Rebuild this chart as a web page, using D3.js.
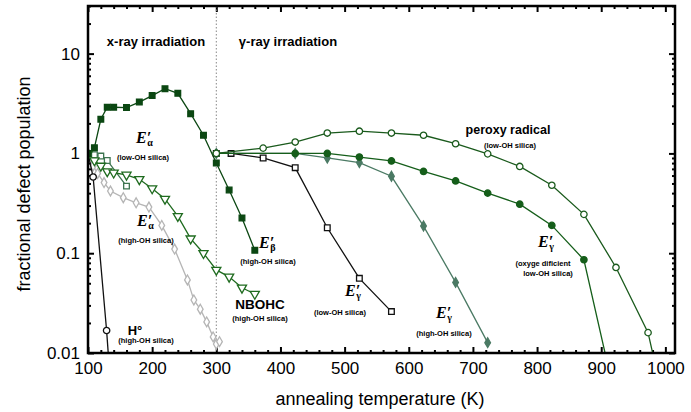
<!DOCTYPE html>
<html>
<head>
<meta charset="utf-8">
<script src="https://cdn.jsdelivr.net/npm/d3@7"></script>
<style>
  body { margin: 0; background: #fff; }
  svg { display: block; font-family: "Liberation Sans", Arial, sans-serif; }
  .tick text { font-size: 17px; fill: #000; }
  .domain { display: none; }
</style>
</head>
<body>
<div class="content"></div>
<script>
// Define SVG area dimensions
var svgWidth = 691;
var svgHeight = 412;

var margin = { top: 6, right: 16, bottom: 59, left: 88 };
var width = svgWidth - margin.left - margin.right;
var height = svgHeight - margin.top - margin.bottom;

// ---- data (annealing temperature K, fractional population) ----
// E'beta, high-OH silica (filled squares)
var tEbeta = [100, 110, 120, 130, 140, 160, 180, 200, 220, 240, 260, 280, 300, 320, 340, 360];
var pEbeta = [1, 1.14, 2.2, 2.9, 2.9, 2.88, 3.27, 3.8, 4.45, 4.0, 2.5, 1.52, 0.8, 0.43, 0.225, 0.107];

// E'alpha, low-OH silica (open squares)
var tEalphaLow = [100, 110, 120, 130, 160];
var pEalphaLow = [1, 0.97, 0.94, 0.85, 0.47];

// NBOHC, high-OH silica (open triangles)
var tNbohc = [100, 110, 120, 130, 140, 160, 180, 200, 220, 240, 260, 280, 300, 320, 340, 360];
var pNbohc = [1, 0.85, 0.75, 0.66, 0.64, 0.61, 0.55, 0.445, 0.35, 0.235, 0.14, 0.1, 0.068, 0.058, 0.045, 0.039];

// E'alpha, high-OH silica (open diamonds, grey)
var tEalphaHigh = [100, 108, 115, 125, 135, 155, 175, 195, 215, 235, 255, 265, 275, 285, 295, 300, 305];
var pEalphaHigh = [1, 0.75, 0.63, 0.51, 0.42, 0.36, 0.32, 0.29, 0.19, 0.11, 0.054, 0.034, 0.0275, 0.0205, 0.0145, 0.0123, 0.013];

// H0, high-OH silica (open circles, black)
var tH = [100, 108, 129, 136];
var pH = [1, 0.58, 0.0168, 0.004];

// E'gamma, low-OH silica (open squares, black)
var tEgLow = [300, 323, 373, 423, 473, 523, 573];
var pEgLow = [1, 1, 0.9, 0.72, 0.18, 0.056, 0.026];

// E'gamma, high-OH silica (filled diamonds)
var tEgHigh = [300, 423, 473, 523, 573, 623, 673, 723];
var pEgHigh = [1, 1, 0.9, 0.81, 0.59, 0.187, 0.051, 0.0127];

// E'gamma, oxygen deficient low-OH silica (filled circles)
var tEgOdc = [300, 423, 473, 523, 573, 623, 673, 723, 773, 823, 873, 923];
var pEgOdc = [1, 1, 1, 0.92, 0.84, 0.66, 0.53, 0.4, 0.31, 0.19, 0.086, 0.0033];

// peroxy radical, low-OH silica (open circles)
var tPeroxy = [300, 373, 423, 473, 523, 573, 623, 673, 723, 773, 823, 873, 923, 973, 1000];
var pPeroxy = [1, 1.13, 1.3, 1.6, 1.67, 1.6, 1.52, 1.25, 0.99, 0.74, 0.48, 0.245, 0.072, 0.016, 0.0027];

var xMajor = [100, 200, 300, 400, 500, 600, 700, 800, 900, 1000];
var yMajor = [0.01, 0.1, 1, 10];
var yLabels = ["0.01", "0.1", "1", "10"];

function zip(t, p) {
  return t.map(function(d, i) { return { t: d, p: p[i] }; });
}

var series = [
  { data: zip(tEalphaHigh, pEalphaHigh), color: "#b5b5b5", marker: "diamond", fill: "#fff" },
  { data: zip(tH, pH), color: "#111", marker: "circle", fill: "#fff" },
  { data: zip(tEalphaLow, pEalphaLow), color: "#3d7550", marker: "square", fill: "#fff" },
  { data: zip(tNbohc, pNbohc), color: "#1f6b1f", marker: "triangle", fill: "#fff" },
  { data: zip(tEbeta, pEbeta), color: "#0b4712", marker: "square", fill: "#0b4712" },
  { data: zip(tEgLow, pEgLow), color: "#111", marker: "square", fill: "#fff" },
  { data: zip(tEgHigh, pEgHigh), color: "#4b7a64", marker: "diamond", fill: "#4b7a64" },
  { data: zip(tEgOdc, pEgOdc), color: "#155e1a", marker: "circle", fill: "#155e1a" },
  { data: zip(tPeroxy, pPeroxy), color: "#1a5a1c", marker: "circle", fill: "#fff" }
];

var svg = d3.select(".content")
  .append("svg")
  .attr("width", svgWidth)
  .attr("height", svgHeight);

var chartGroup = svg.append("g")
  .attr("transform", `translate(${margin.left}, ${margin.top})`);

var xScale = d3.scaleLinear().domain([100, 1015]).range([0, width]);
var yScale = d3.scaleLog().domain([0.01, 30]).range([height, 0]);

// minor tick values
var xMinor = d3.range(100, 1001, 20).filter(d => d % 100 !== 0);
var yMinor = [];
[0.01, 0.1, 1, 10].forEach(function(dec) {
  for (var k = 2; k <= 9; k++) {
    var v = dec * k;
    if (v <= 30) yMinor.push(v);
  }
});

// axes: ticks point inward on all four sides
chartGroup.append("g")
  .attr("transform", `translate(0, ${height})`)
  .call(d3.axisBottom(xScale).tickValues(xMajor).tickSize(-6).tickPadding(9).tickFormat(d3.format("d")));
chartGroup.append("g")
  .attr("transform", `translate(0, ${height})`)
  .call(d3.axisBottom(xScale).tickValues(xMinor).tickSize(-3).tickFormat(""));
chartGroup.append("g")
  .call(d3.axisTop(xScale).tickValues(xMajor).tickSize(-6).tickFormat(""));
chartGroup.append("g")
  .call(d3.axisTop(xScale).tickValues(xMinor).tickSize(-3).tickFormat(""));

chartGroup.append("g")
  .call(d3.axisLeft(yScale).tickValues(yMajor).tickSize(-6).tickPadding(8)
    .tickFormat((d, i) => yLabels[i]));
chartGroup.append("g")
  .call(d3.axisLeft(yScale).tickValues(yMinor).tickSize(-3).tickFormat(""));
chartGroup.append("g")
  .attr("transform", `translate(${width}, 0)`)
  .call(d3.axisRight(yScale).tickValues(yMajor).tickSize(-6).tickFormat(""));
chartGroup.append("g")
  .attr("transform", `translate(${width}, 0)`)
  .call(d3.axisRight(yScale).tickValues(yMinor).tickSize(-3).tickFormat(""));

chartGroup.selectAll(".tick line").attr("stroke", "#000").attr("stroke-width", 2);

// dotted separator at 300 K
chartGroup.append("line")
  .attr("x1", xScale(300)).attr("x2", xScale(300))
  .attr("y1", 0).attr("y2", height)
  .attr("stroke", "#888")
  .attr("stroke-width", 1)
  .attr("stroke-dasharray", "1.5,2");

// clip for data
svg.append("defs").append("clipPath").attr("id", "plotclip")
  .append("rect").attr("width", width).attr("height", height);

var dataGroup = chartGroup.append("g").attr("clip-path", "url(#plotclip)");

var line = d3.line().x(d => xScale(d.t)).y(d => yScale(d.p));

var symbols = {
  square: d3.symbol().type(d3.symbolSquare).size(32),
  circle: d3.symbol().type(d3.symbolCircle).size(32),
  diamond: d3.symbol().type(d3.symbolDiamond).size(28),
  triangle: d3.symbol().type(d3.symbolTriangle).size(36)
};

series.forEach(function(s) {
  dataGroup.append("path")
    .datum(s.data)
    .attr("fill", "none")
    .attr("stroke", s.color)
    .attr("stroke-width", 1.3)
    .attr("d", line);

  dataGroup.selectAll(null)
    .data(s.data.filter(d => d.p >= 0.01))
    .enter()
    .append("path")
    .attr("d", symbols[s.marker])
    .attr("transform", function(d) {
      var rot = s.marker === "triangle" ? " rotate(180)" : "";
      return `translate(${xScale(d.t)}, ${yScale(d.p)})` + rot;
    })
    .attr("fill", s.fill)
    .attr("stroke", s.color)
    .attr("stroke-width", 1.3);
});

// frame
chartGroup.append("rect")
  .attr("width", width).attr("height", height)
  .attr("fill", "none").attr("stroke", "#000").attr("stroke-width", 2.5);

// axis titles
svg.append("text")
  .attr("x", 380).attr("y", 405)
  .attr("text-anchor", "middle")
  .style("font-size", "18px")
  .text("annealing temperature (K)");

svg.append("text")
  .attr("transform", "rotate(-90)")
  .attr("x", -184).attr("y", 30)
  .attr("text-anchor", "middle")
  .style("font-size", "18px")
  .text("fractional defect population");

// region labels
svg.append("text").attr("x", 156).attr("y", 46).attr("text-anchor", "middle")
  .style("font-size", "13px").style("font-weight", "bold").text("x-ray irradiation");
svg.append("text").attr("x", 288).attr("y", 46).attr("text-anchor", "middle")
  .style("font-size", "13px").style("font-weight", "bold").text("γ-ray irradiation");

// defect labels
function eLabel(x, y, sub) {
  var t = svg.append("text").attr("x", x).attr("y", y)
    .style("font-family", "'Liberation Serif', 'Times New Roman', serif")
    .style("font-style", "italic").style("font-weight", "bold")
    .style("font-size", "16px");
  t.append("tspan").text("E");
  t.append("tspan").text("′");
  t.append("tspan").attr("dx", -4).attr("dy", 3).style("font-size", "10px").style("font-style", "normal").text(sub);
}
function note(x, y, txt, size) {
  svg.append("text").attr("x", x).attr("y", y)
    .attr("text-anchor", "middle")
    .style("font-size", (size || 7.5) + "px")
    .style("font-weight", "bold")
    .text(txt);
}

eLabel(136, 143, "α");
note(143, 160, "(low-OH silica)");

eLabel(137, 226, "α");
note(146, 243, "(high-OH silica)");

eLabel(259, 248, "β");
note(268, 264, "(high-OH silica)");

note(260, 309, "NBOHC", 13.5);
note(260, 321, "(high-OH silica)");

note(135, 335, "H°", 13);
note(146, 343, "(high-OH silica)");

eLabel(345, 296, "γ");
note(340, 315, "(low-OH silica)");

eLabel(436, 318, "γ");
note(444, 336, "(high-OH silica)");

eLabel(538, 247, "γ");
note(543, 266, "(oxyge dificient");
note(548, 276, "low-OH silica)");

note(508, 134, "peroxy radical", 12.5);
note(510, 148, "(low-OH silica)");
</script>
</body>
</html>
